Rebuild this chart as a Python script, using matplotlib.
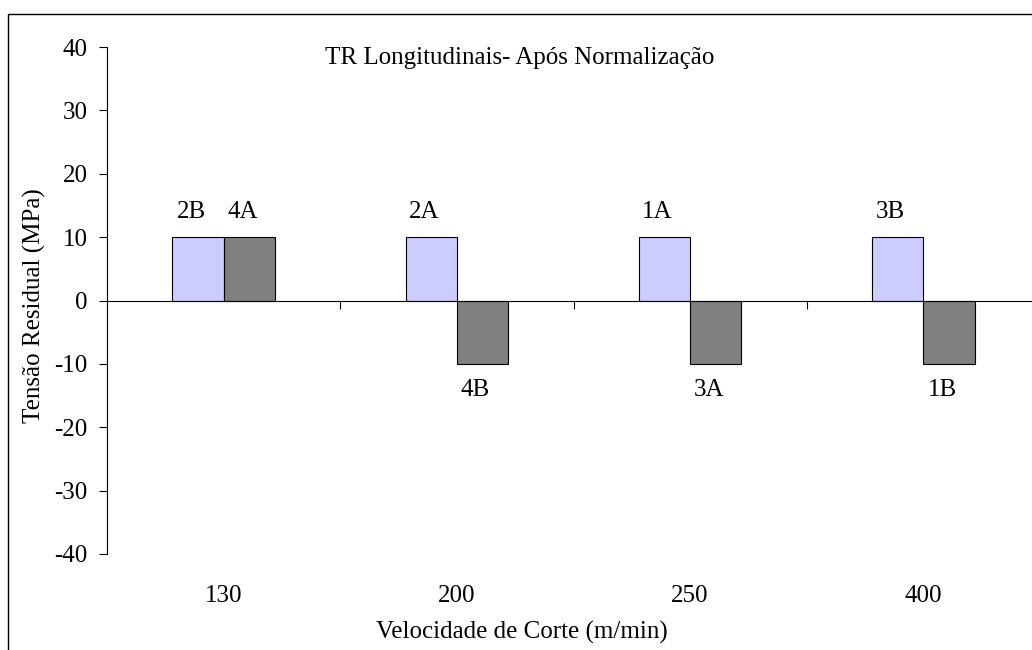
import matplotlib
matplotlib.use("Agg")
import matplotlib.pyplot as plt
from matplotlib.patches import Rectangle
import numpy as np

# data
speeds = ["130", "200", "250", "400"]
tension_a = [10, 10, 10, 10]
tension_b = [10, -10, -10, -10]
labels_a = ["2B", "2A", "1A", "3B"]
labels_b = ["4A", "4B", "3A", "1B"]

plt.rcParams["font.family"] = ["Liberation Serif", "DejaVu Serif"]
plt.rcParams["font.size"] = 18
plt.rcParams["axes.unicode_minus"] = False

fig = plt.figure(figsize=(10.32, 6.5), dpi=100)
ax = fig.add_axes([107 / 1032, 1 - 554 / 650, 933 / 1032, 507 / 650])

# outer chart frame (runs past the right and bottom edges, as in the reference)
fig.patches.append(Rectangle((8 / 1032, -0.2), 1.2, 1.2 - 14 / 650,
                             transform=fig.transFigure, fill=False,
                             edgecolor="black", linewidth=1.0))

x = np.arange(len(speeds))
w = 0.22
bars_a = ax.bar(x - w / 2, tension_a, w, color="#CCCCFF", edgecolor="black", linewidth=0.8)
bars_b = ax.bar(x + w / 2, tension_b, w, color="#808080", edgecolor="black", linewidth=0.8)

for bars, labs in ((bars_a, labels_a), (bars_b, labels_b)):
    for b, lab in zip(bars, labs):
        h = b.get_height()
        xc = b.get_x() + b.get_width() / 2
        dy = 18 if h >= 0 else -19
        ax.annotate(lab, (xc, h), xytext=(-5, dy), textcoords="offset points",
                    ha="center", va="center")

ax.set_xlim(-0.5, len(speeds) - 0.5)
ax.set_ylim(-40, 40)
ax.set_yticks(np.arange(-40, 41, 10))
ax.tick_params(axis="y", direction="out", length=6, width=0.8, pad=8)

for s in ("top", "right"):
    ax.spines[s].set_visible(False)
ax.spines["left"].set_linewidth(0.8)
ax.spines["bottom"].set_position(("data", 0))
ax.spines["bottom"].set_linewidth(0.8)
ax.set_xticks(x[:-1] + 0.5)
ax.set_xticklabels([])
ax.tick_params(axis="x", direction="out", length=6, width=0.8)

# category labels sit at the bottom of the plot area
sec = ax.secondary_xaxis(0.0)
sec.spines["bottom"].set_visible(False)
sec.set_xticks(x)
sec.set_xticklabels(speeds)
sec.tick_params(length=0, pad=22)

ax.set_ylabel("Tensão Residual (MPa)", va="center")
ax.yaxis.set_label_coords(-0.078, 0.49)

fig.text(522 / 1032, 1 - 632 / 650, "Velocidade de Corte (m/min)",
         ha="center", va="center")
fig.text(520 / 1032, 1 - 58 / 650, "TR Longitudinais- Após Normalização",
         ha="center", va="center")

fig.savefig("out.png", dpi=100)
